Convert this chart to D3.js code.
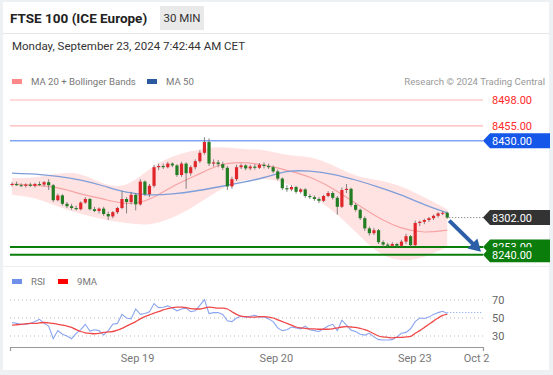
<!DOCTYPE html>
<html>
<head>
<meta charset="utf-8">
<script src="https://cdn.jsdelivr.net/npm/d3@7"></script>
<style>
  html, body { margin: 0; padding: 0; background: #eef1f4; }
  svg { display: block; font-family: Roboto, "Liberation Sans", sans-serif; }
</style>
</head>
<body>
<div id="app"></div>
<script>
// candles (30 min), bar index 0..95
const opens  = [8357,8358,8356,8355,8357,8355,8358,8357,8361,8356,8331,8339,8325,8321,8318,8316,8327,8333,8316,8313,8317,8308,8304,8311,8318,8333,8328,8340,8324,8362,8341,8355,8386,8388,8386,8392,8389,8373,8392,8376,8386,8396,8410,8428,8392,8394,8391,8385,8354,8366,8386,8389,8384,8387,8385,8390,8388,8386,8379,8367,8351,8349,8353,8345,8349,8338,8336,8333,8330,8338,8343,8335,8320,8348,8350,8323,8315,8301,8284,8276,8281,8261,8257,8255,8258,8255,8262,8271,8256,8293,8295,8298,8301,8305,8309,8310];
const highs  = [8361,8362,8359,8359,8360,8360,8362,8363,8366,8358,8342,8341,8328,8325,8322,8329,8336,8335,8320,8319,8320,8312,8313,8320,8346,8336,8345,8343,8366,8364,8358,8390,8392,8392,8395,8394,8391,8395,8394,8389,8399,8414,8436,8434,8399,8398,8395,8388,8370,8390,8392,8391,8390,8391,8393,8394,8392,8389,8382,8369,8356,8356,8355,8351,8351,8341,8339,8336,8340,8346,8346,8338,8352,8358,8352,8326,8317,8304,8287,8285,8283,8264,8260,8261,8260,8265,8275,8273,8297,8297,8300,8303,8307,8311,8313,8312];
const lows   = [8354,8355,8353,8352,8353,8352,8355,8354,8348,8328,8329,8322,8318,8315,8314,8314,8325,8314,8311,8309,8305,8298,8301,8308,8316,8309,8324,8314,8322,8338,8336,8352,8381,8383,8384,8386,8370,8370,8350,8372,8382,8393,8407,8388,8387,8386,8381,8348,8350,8363,8383,8381,8381,8382,8383,8384,8383,8376,8364,8348,8345,8346,8342,8342,8335,8333,8330,8326,8328,8336,8332,8307,8318,8343,8320,8312,8298,8280,8272,8273,8258,8253,8253,8253,8253,8253,8258,8253,8254,8288,8291,8295,8298,8302,8306,8300];
const closes = [8358,8356,8355,8357,8355,8358,8357,8361,8356,8331,8339,8325,8321,8318,8316,8327,8333,8316,8313,8317,8308,8304,8311,8318,8333,8328,8340,8324,8362,8341,8355,8386,8388,8386,8392,8389,8373,8392,8376,8386,8396,8410,8428,8392,8394,8391,8385,8354,8366,8386,8389,8384,8387,8385,8390,8388,8386,8379,8367,8351,8349,8353,8345,8349,8338,8336,8333,8330,8338,8343,8335,8320,8348,8350,8323,8315,8301,8284,8276,8281,8261,8257,8255,8258,8255,8262,8271,8256,8293,8295,8298,8301,8305,8309,8310,8302];

// indicators, sampled every 5 bars
const indIdx  = [0,5,10,15,20,25,30,35,40,45,50,55,60,65,70,75,80,85,90,95];
const ma20    = [8358,8356,8353,8341,8333,8323,8330,8355,8371,8391,8395,8390,8381,8371,8351,8326,8301,8283,8276,8281];
const bbUpper = [8368,8368,8376,8378,8356,8351,8385,8405,8415,8421,8416,8416,8405,8405,8390,8370,8365,8355,8336,8316];
const bbLower = [8340,8336,8320,8308,8298,8293,8288,8301,8321,8348,8365,8368,8360,8340,8315,8278,8240,8228,8235,8253];
const ma50    = [8376,8375,8371,8365,8355,8343,8339,8341,8346,8353,8360,8368,8381,8380,8375,8365,8353,8340,8323,8310];

// RSI (per bar) and its 9MA
const rsi = [45,44,43,43,44,46,48.5,44,41,27,36,32,30,27,33,37,43,35.5,37,36,31,36,43,44,54,50,49,60,54,55,57,66,61.5,62,63.5,61,58,60,61,57,58,64,70.5,55,56,56,54,47,46,50,52,51,52,53,51,51.5,49,46,39,36,37,40,39,38,41,37,36,35,38,41,43,36,47.5,42,36.5,35,32,31,33,29,26,25.6,25.6,26,29,33,34,38,46,50,49.5,51,54,56,57.5,55];
const rsiMa = [42,42.5,43,43.5,44,44,44.5,45,44.5,44,43,42,41,39.5,37,35,33.5,33,32.5,33,34,34.5,35,36.5,38.5,41,43.5,46,49,51.5,53.5,55.5,57,59,60.5,61.5,62,62,61.5,60.5,60,60,61,62,61.5,61,61,60,57,54,52,51.5,51,51,51.5,51.5,51,50,48,46,44,42,40,39,38.5,38,38,37.5,37.5,37.5,38,39,40,40.5,40,39.5,38.5,37,35,32.5,30,29,28.5,28,28.5,28.5,29,29.5,33,36,39.5,43,46.5,50,53,54];
const rsiLevels = [70, 50, 30];

// key levels
const resist = [8498, 8455];
const pivot = 8430;
const lastPrice = 8302;
const supports = [8253, 8240];
const target = 8240;

// x axis
const tickIdx = [27.3, 57.6, 87.8, 101.3];
const tickLabels = ['Sep 19', 'Sep 20', 'Sep 23', 'Oct 2'];

const W = 553, H = 375;
const svg = d3.select('#app').append('svg').attr('width', W).attr('height', H);

svg.append('rect').attr('width', W).attr('height', H).attr('fill', '#eef1f4');
svg.append('rect').attr('x', 3).attr('y', 2).attr('width', 546).attr('height', 368).attr('fill', '#fff');
svg.append('line').attr('x1', 3).attr('x2', 549).attr('y1', 33.5).attr('y2', 33.5).attr('stroke', '#e4e6e9');

// header
svg.append('text').attr('x', 10).attr('y', 23).attr('font-size', 13.5).attr('font-weight', 'bold')
  .attr('fill', '#222').text('FTSE 100 (ICE Europe)');
svg.append('rect').attr('x', 160).attr('y', 6).attr('width', 44).attr('height', 24).attr('fill', '#e9e9ea');
svg.append('text').attr('x', 182).attr('y', 22).attr('font-size', 11.5).attr('text-anchor', 'middle')
  .attr('fill', '#333').text('30 MIN');
svg.append('text').attr('x', 12).attr('y', 50).attr('font-size', 11.5).attr('fill', '#333')
  .text('Monday, September 23, 2024 7:42:44 AM CET');

// legend
const legend1 = [['MA 20 + Bollinger Bands', '#f88', 12], ['MA 50', '#2d5a9e', 147]];
legend1.forEach(([t, c, x]) => {
  svg.append('rect').attr('x', x).attr('y', 79).attr('width', 10).attr('height', 5).attr('fill', c);
  svg.append('text').attr('x', x + 19).attr('y', 85).attr('font-size', 9.6).attr('fill', '#777').text(t);
});
svg.append('text').attr('x', 545).attr('y', 85).attr('font-size', 9.6).attr('fill', '#999')
  .attr('text-anchor', 'end').text('Research \u00A9 2024 Trading Central');

// scales
const x = d3.scaleLinear().domain([-0.44, 102.8]).range([10, 483]);
const y = d3.scaleLinear().domain([8240, 8498]).range([254.8, 100]);
const yr = d3.scaleLinear().domain([30, 70]).range([336, 300]);

const main = svg.append('g');

// bollinger band
const bandData = indIdx.map((d, i) => ({ i: d, u: bbUpper[i], l: bbLower[i] }));
main.append('path').datum(bandData)
  .attr('d', d3.area().x(d => x(d.i)).y0(d => y(d.l)).y1(d => y(d.u)).curve(d3.curveBasis))
  .attr('fill', '#ffe3e3');

// level lines
resist.forEach(v => {
  main.append('line').attr('x1', 10).attr('x2', 483).attr('y1', y(v)).attr('y2', y(v))
    .attr('stroke', '#ffb5b5').attr('stroke-width', 1.2);
});
main.append('line').attr('x1', 10).attr('x2', 483).attr('y1', y(pivot)).attr('y2', y(pivot))
  .attr('stroke', '#80a6f2').attr('stroke-width', 1.6);
supports.forEach(v => {
  main.append('line').attr('x1', 10).attr('x2', 483).attr('y1', y(v)).attr('y2', y(v))
    .attr('stroke', '#0b7d0b').attr('stroke-width', 2);
});

// moving averages
const maLine = arr => d3.line().x((d, i) => x(indIdx[i])).y(d => y(d)).curve(d3.curveBasis)(arr);
main.append('path').attr('d', maLine(ma20)).attr('fill', 'none').attr('stroke', '#f7a3a3').attr('stroke-width', 1.2);
main.append('path').attr('d', maLine(ma50)).attr('fill', 'none').attr('stroke', '#7f9ed8').attr('stroke-width', 1.3);

// candles
const bars = closes.map((c, i) => ({ i, o: opens[i], h: highs[i], l: lows[i], c }));
main.selectAll('.wick').data(bars).join('line').attr('class', 'wick')
  .attr('x1', d => x(d.i)).attr('x2', d => x(d.i))
  .attr('y1', d => y(d.h)).attr('y2', d => y(d.l))
  .attr('stroke', '#666').attr('stroke-width', 0.8);
main.selectAll('.body').data(bars).join('rect').attr('class', 'body')
  .attr('x', d => x(d.i) - 1.6).attr('width', 3.2)
  .attr('y', d => y(Math.max(d.o, d.c)))
  .attr('height', d => Math.max(1, Math.abs(y(d.o) - y(d.c))))
  .attr('fill', d => d.c >= d.o ? '#e0262b' : '#237d23');

// last price dotted line
main.append('line').attr('x1', x(95) + 2).attr('x2', 483).attr('y1', y(lastPrice)).attr('y2', y(lastPrice))
  .attr('stroke', '#666').attr('stroke-dasharray', '1,2');

// forecast arrow
const ax0 = x(95) + 2, ay0 = y(lastPrice) + 3, ax1 = 481, ay1 = y(target) - 3;
const ang = Math.atan2(ay1 - ay0, ax1 - ax0);
main.append('line').attr('x1', ax0).attr('y1', ay0)
  .attr('x2', ax1 - 8 * Math.cos(ang)).attr('y2', ay1 - 8 * Math.sin(ang))
  .attr('stroke', '#2c5fa8').attr('stroke-width', 4);
const hl = 12, hw = 7;
const bx = ax1 - hl * Math.cos(ang), by = ay1 - hl * Math.sin(ang);
main.append('path')
  .attr('d', `M${ax1},${ay1}L${bx + hw * Math.sin(ang)},${by - hw * Math.cos(ang)}L${bx - hw * Math.sin(ang)},${by + hw * Math.cos(ang)}Z`)
  .attr('fill', '#2c5fa8');

// right labels
const tag = (v, bg, fg) => {
  const yc = y(v);
  if (bg) {
    main.append('path')
      .attr('d', `M483,${yc}L490,${yc - 7.5}H550V${yc + 7.5}H490Z`)
      .attr('fill', bg);
  }
  main.append('text').attr('x', 492).attr('y', yc + 4).attr('font-size', 11).attr('fill', fg)
    .text(v.toFixed(2));
};
resist.forEach(v => tag(v, null, '#ff2a2a'));
tag(pivot, '#1557e8', '#fff');
tag(lastPrice, '#333', '#fff');
supports.forEach(v => tag(v, '#0b7d0b', '#fff'));

// RSI panel
svg.append('line').attr('x1', 3).attr('x2', 549).attr('y1', 266.5).attr('y2', 266.5).attr('stroke', '#eceef0');
const legend2 = [['RSI', '#6f8fe8', 12], ['9MA', '#f00', 58]];
legend2.forEach(([t, c, xx]) => {
  svg.append('rect').attr('x', xx).attr('y', 279).attr('width', 10).attr('height', 5).attr('fill', c);
  svg.append('text').attr('x', xx + 19).attr('y', 285).attr('font-size', 9.6).attr('fill', '#777').text(t);
});
const rg = svg.append('g');
rsiLevels.forEach(v => {
  rg.append('line').attr('x1', 10).attr('x2', 483).attr('y1', yr(v)).attr('y2', yr(v))
    .attr('stroke', '#bbb').attr('stroke-dasharray', '1,3');
  rg.append('text').attr('x', 492).attr('y', yr(v) + 4).attr('font-size', 11).attr('fill', '#666').text(v);
});
rg.append('line').attr('x1', x(95)).attr('x2', 483).attr('y1', yr(rsi[95]) - 1).attr('y2', yr(rsi[95]) - 1)
  .attr('stroke', '#7f9ef0').attr('stroke-dasharray', '1,2');
rg.append('path').attr('d', d3.line().x((d, i) => x(i)).y(d => yr(d))(rsi))
  .attr('fill', 'none').attr('stroke', '#8aa5f0').attr('stroke-width', 1.1);
rg.append('path').attr('d', d3.line().x((d, i) => x(i)).y(d => yr(d)).curve(d3.curveMonotoneX)(rsiMa))
  .attr('fill', 'none').attr('stroke', '#f04848').attr('stroke-width', 1.3);

// x axis
const xAxis = d3.axisBottom(x).tickValues(tickIdx).tickFormat((d, i) => tickLabels[i])
  .tickSizeInner(0).tickSizeOuter(4).tickPadding(7);
const ax = svg.append('g').attr('transform', 'translate(0,347)').call(xAxis);
ax.select('.domain').attr('stroke', '#999').attr('stroke-width', 1.2);
ax.selectAll('text').attr('font-size', 11).attr('fill', '#777').attr('font-family', 'Roboto, sans-serif');
</script>
</body>
</html>
